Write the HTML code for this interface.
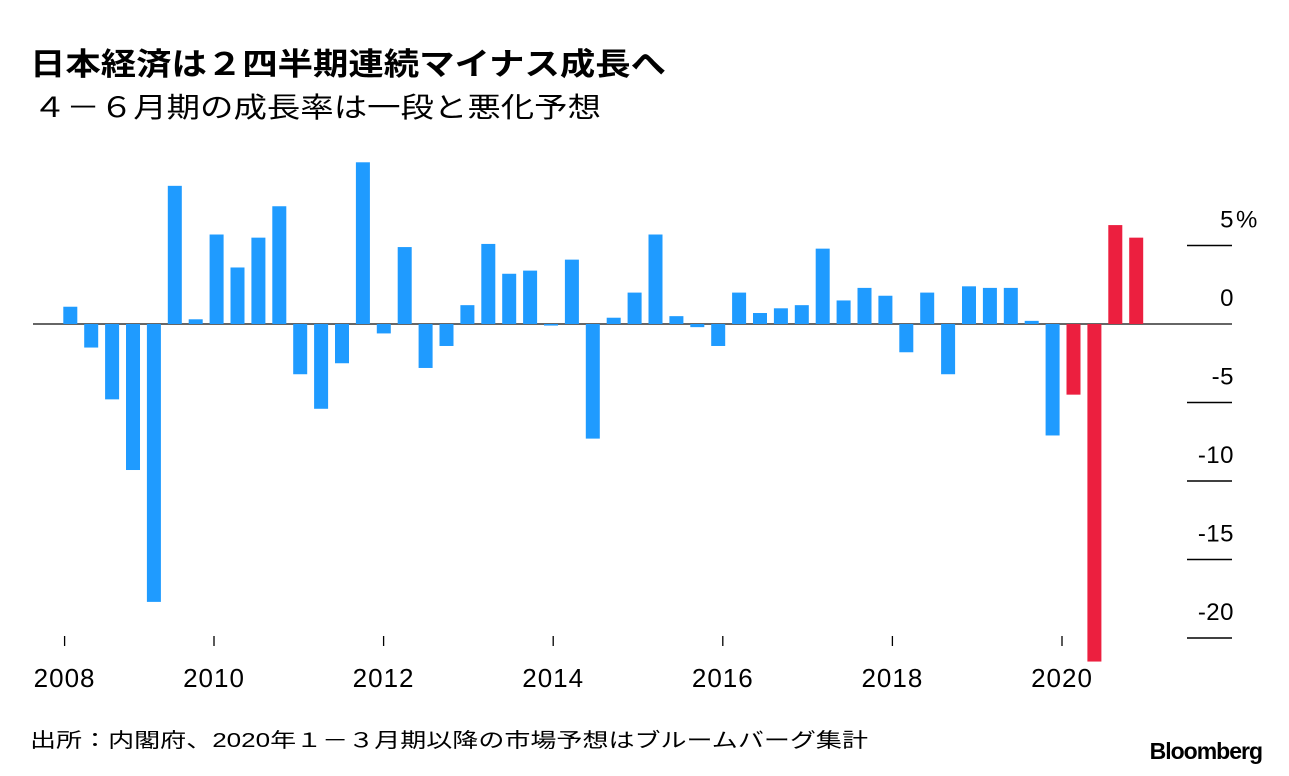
<!DOCTYPE html>
<html><head><meta charset="utf-8">
<style>
html,body{margin:0;padding:0;background:#fff;}
svg{display:block;}
text{font-family:"Liberation Sans","Noto Sans CJK JP",sans-serif;}
</style></head>
<body>
<svg id="chart" width="1289" height="776" viewBox="0 0 1289 776" xmlns="http://www.w3.org/2000/svg">
  <text x="30" y="75" font-size="31" font-weight="bold" fill="#000" textLength="636" lengthAdjust="spacingAndGlyphs">日本経済は２四半期連続マイナス成長へ</text>
  <text x="33" y="117" font-size="28" fill="#000" textLength="568" lengthAdjust="spacingAndGlyphs">４－６月期の成長率は一段と悪化予想</text>
  <g id="grid"></g>
  <g id="bars"></g>
  <g id="xaxis"></g>
  <g id="yaxis"></g>
  <text x="30" y="747" font-size="20" fill="#000" textLength="838" lengthAdjust="spacingAndGlyphs">出所：内閣府、2020年１－３月期以降の市場予想はブルームバーグ集計</text>
  <text x="1262" y="759" font-size="23" font-weight="bold" fill="#000" text-anchor="end" letter-spacing="-1">Bloomberg</text>
</svg>
<script>
const quarters = ["2008Q1","2008Q2","2008Q3","2008Q4","2009Q1","2009Q2","2009Q3","2009Q4","2010Q1","2010Q2","2010Q3","2010Q4","2011Q1","2011Q2","2011Q3","2011Q4","2012Q1","2012Q2","2012Q3","2012Q4","2013Q1","2013Q2","2013Q3","2013Q4","2014Q1","2014Q2","2014Q3","2014Q4","2015Q1","2015Q2","2015Q3","2015Q4","2016Q1","2016Q2","2016Q3","2016Q4","2017Q1","2017Q2","2017Q3","2017Q4","2018Q1","2018Q2","2018Q3","2018Q4","2019Q1","2019Q2","2019Q3","2019Q4","2020Q1","2020Q2","2020Q3","2020Q4"];
const growth = [1.1,-1.5,-4.8,-9.3,-17.7,8.8,0.3,5.7,3.6,5.5,7.5,-3.2,-5.4,-2.5,10.3,-0.6,4.9,-2.8,-1.4,1.2,5.1,3.2,3.4,-0.1,4.1,-7.3,0.4,2.0,5.7,0.5,-0.2,-1.4,2.0,0.7,1.0,1.2,4.8,1.5,2.3,1.8,-1.8,2.0,-3.2,2.4,2.3,2.3,0.2,-7.1,-4.5,-21.5,6.3,5.5];
const isForecast = [0,0,0,0,0,0,0,0,0,0,0,0,0,0,0,0,0,0,0,0,0,0,0,0,0,0,0,0,0,0,0,0,0,0,0,0,0,0,0,0,0,0,0,0,0,0,0,0,1,1,1,1];
const yTicks = [5,0,-5,-10,-15,-20];
const yTickLabels = ["5","0","-5","-10","-15","-20"];
const xYears = [2008,2010,2012,2014,2016,2018,2020];

const NS="http://www.w3.org/2000/svg";
function y(v){return 324 - v*15.7;}
function x(i){return 70.3 + i*20.9;}
function xYear(yr){return Math.max(64.6, 214 + (yr-2010)*84.8);}
function mk(tag,attrs,parent){const e=document.createElementNS(NS,tag);for(const k in attrs)e.setAttribute(k,attrs[k]);parent.appendChild(e);return e;}

const gBars=document.getElementById('bars'), gX=document.getElementById('xaxis'), gY=document.getElementById('yaxis'), gG=document.getElementById('grid');

growth.forEach((v,i)=>{
  const top=Math.min(y(v),y(0)), h=Math.abs(y(v)-y(0));
  const r=mk('rect',{x:x(i)-7,y:top,width:14,height:Math.max(h,1),fill:isForecast[i]?'#ec1f3f':'#1f9bff'},gBars);
  
  
});

const zl=mk('line',{x1:33,x2:1232,y1:y(0),y2:y(0),stroke:'#333','stroke-width':1.6},gG);



yTicks.forEach((t,k)=>{
  if(t!==0){
    const l=mk('line',{x1:1187,x2:1232,y1:y(t),y2:y(t),stroke:'#000','stroke-width':1.5},gY);
    
    
  }
  const tx=mk('text',{x:1234,y:y(t)-18,'font-size':24,'text-anchor':'end','letter-spacing':0.5,fill:'#000'},gY);
  tx.textContent=yTickLabels[k];
  
  
  if(k===0){
    const pc=mk('text',{x:1236,y:y(t)-18,'font-size':24,fill:'#000'},gY);
    pc.textContent='%';
    
    
  }
});

xYears.forEach(yr=>{
  const xx=xYear(yr);
  const l=mk('line',{x1:xx,x2:xx,y1:636,y2:646,stroke:'#000','stroke-width':1.3},gX);
  
  
  const tx=mk('text',{x:xx,y:687,'font-size':26,'letter-spacing':1,'text-anchor':'middle',fill:'#000'},gX);
  tx.textContent=String(yr);
  
  
});
</script>
</body></html>
